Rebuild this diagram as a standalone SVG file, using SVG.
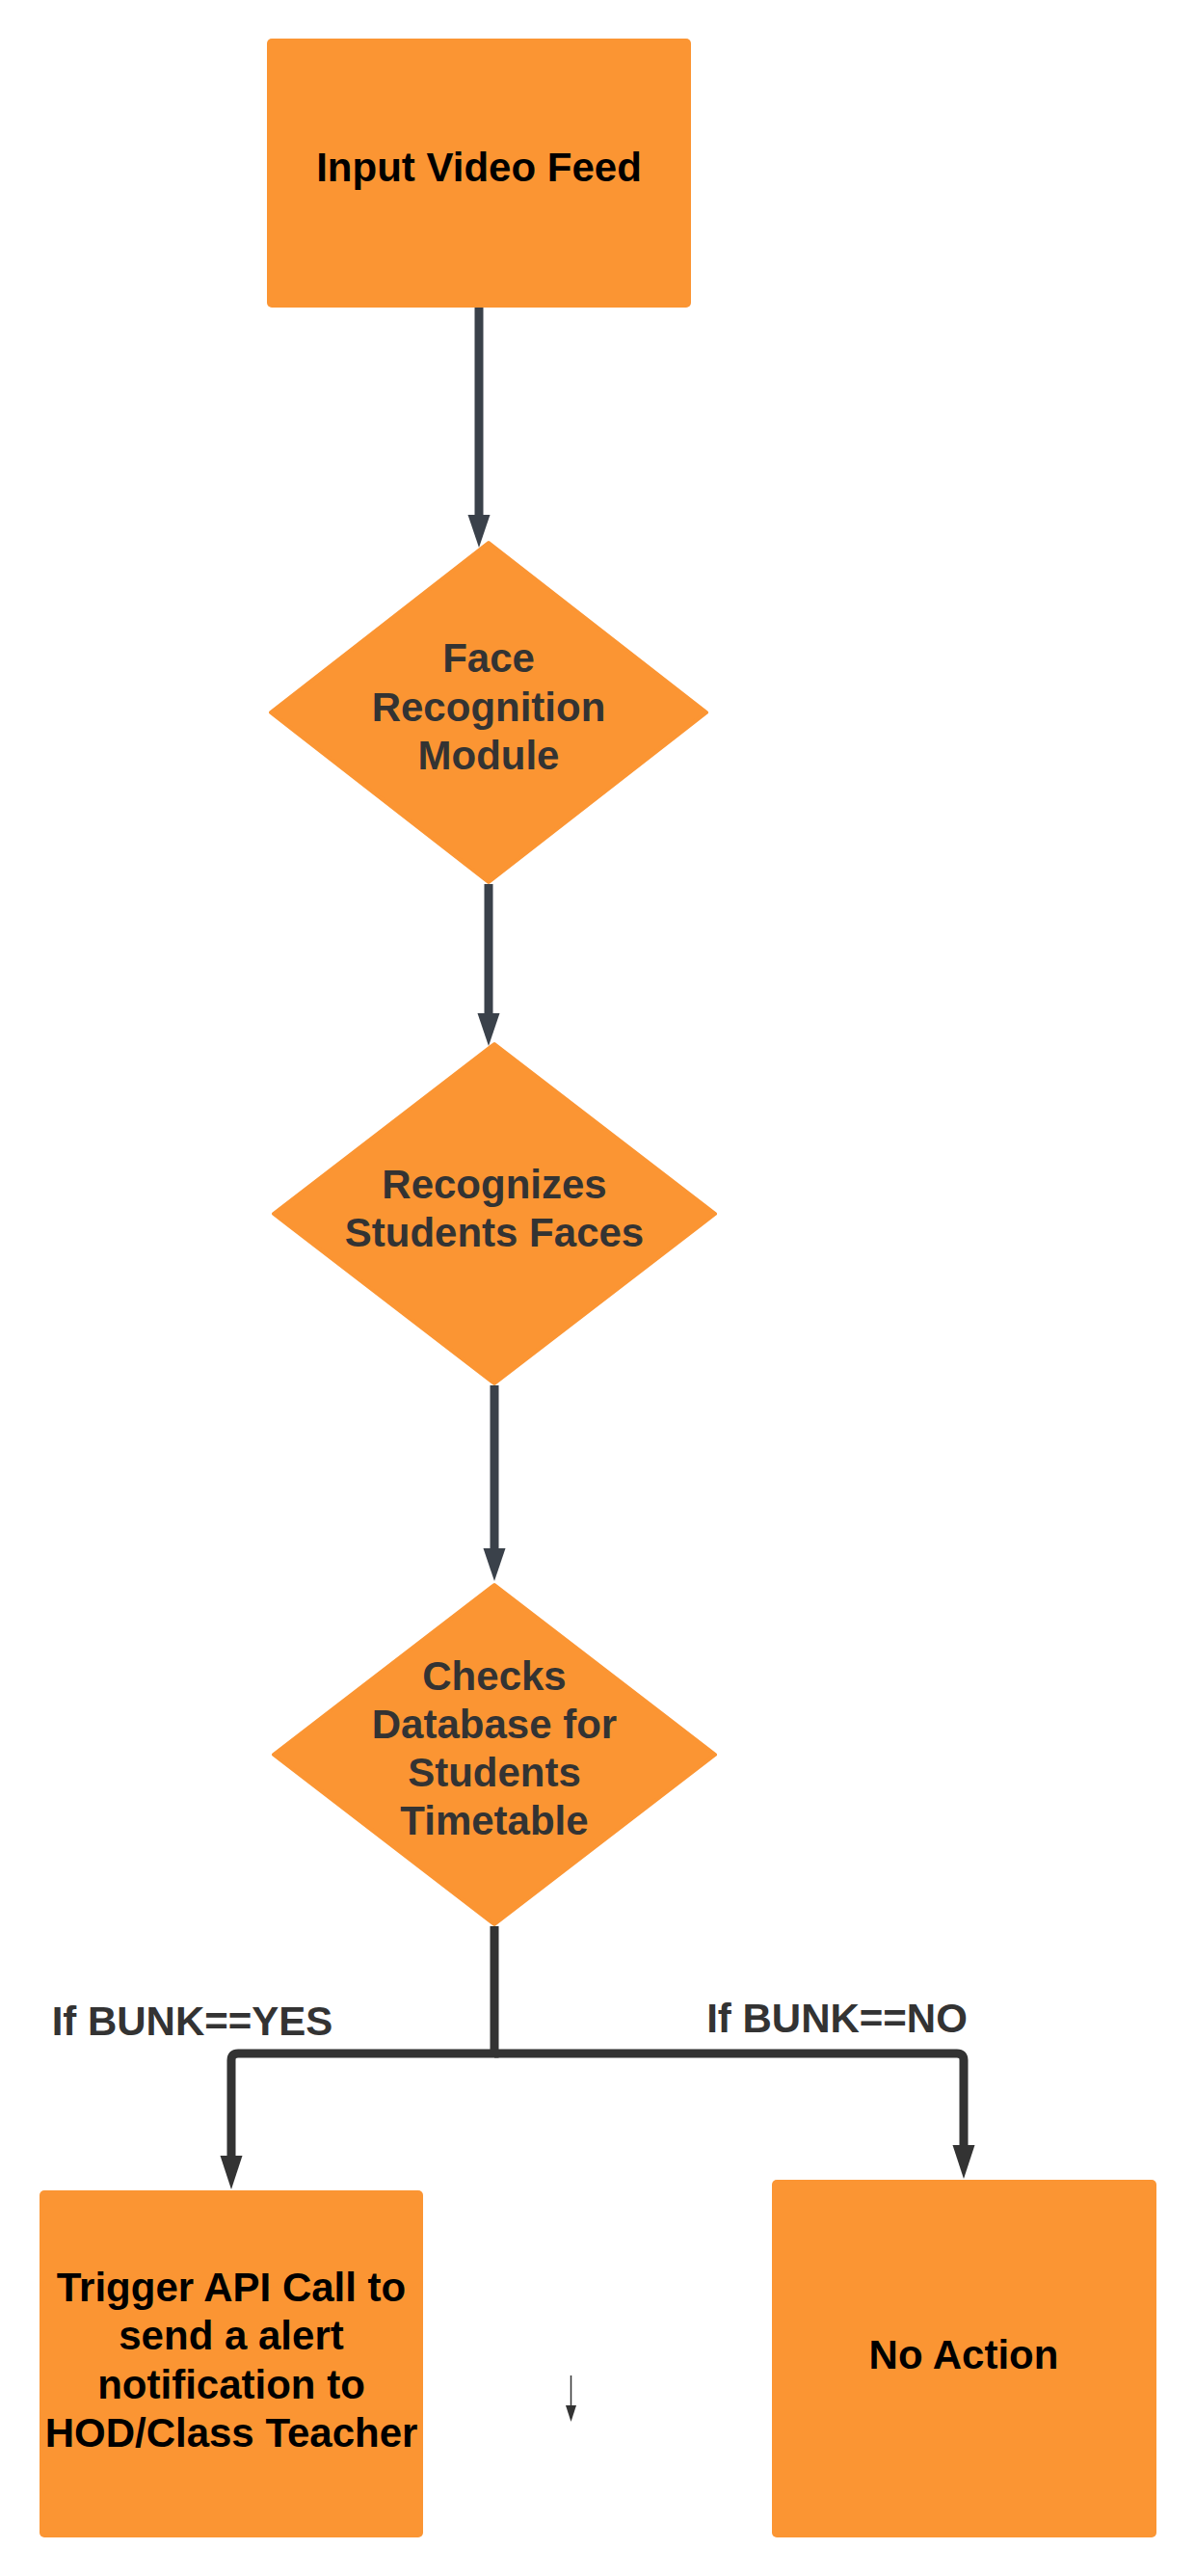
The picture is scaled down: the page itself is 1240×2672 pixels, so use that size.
<svg xmlns="http://www.w3.org/2000/svg" width="1240" height="2672" viewBox="0 0 1240 2672">
<style>
.box{fill:#fb9533;}
.dia{fill:#fb9533;stroke:#fb9533;stroke-width:4;stroke-linejoin:round;}
.t{font-family:"Liberation Sans",Arial,sans-serif;font-weight:bold;font-size:42px;text-anchor:middle;}
.tb{fill:#000000;}
.tg{fill:#333333;}
.c1{fill:none;stroke:#3a414a;stroke-width:9;}
.c2{fill:none;stroke:#333333;stroke-width:9;}
.c3{fill:none;stroke:#333333;stroke-width:1.5;}
</style>
<defs>
<marker id="ah1" markerUnits="userSpaceOnUse" markerWidth="36" markerHeight="26" viewBox="0 -13 36 26" refX="0" refY="0" orient="auto" overflow="visible">
<path d="M0,-11.5 L34,0 L0,11.5 Z" fill="#3a414a"/>
</marker>
<marker id="ah2" markerUnits="userSpaceOnUse" markerWidth="36" markerHeight="26" viewBox="0 -13 36 26" refX="0" refY="0" orient="auto" overflow="visible">
<path d="M0,-11.5 L35,0 L0,11.5 Z" fill="#333333"/>
</marker>
<marker id="ah3" markerUnits="userSpaceOnUse" markerWidth="20" markerHeight="14" viewBox="0 -7 20 14" refX="0" refY="0" orient="auto" overflow="visible">
<path d="M0,-5.5 L17,0 L0,5.5 Z" fill="#333333"/>
</marker>
</defs>
<rect width="1240" height="2672" fill="#ffffff"/>
<g id="connectors">
<path class="c1" d="M497,319 V534" marker-end="url(#ah1)"/>
<path class="c1" d="M507,917 V1051" marker-end="url(#ah1)"/>
<path class="c1" d="M513,1437 V1606" marker-end="url(#ah1)"/>
<path class="c2" d="M513,1998 V2130 H247 Q240,2130 240,2137 V2236" marker-end="url(#ah2)"/>
<path class="c2" d="M513,2130 H993 Q1000,2130 1000,2137 V2225" marker-end="url(#ah2)"/>
<path class="c3" d="M592.5,2464 V2495" marker-end="url(#ah3)"/>
<text class="t tg" x="199.5" y="2111">If BUNK==YES</text>
<text class="t tg" x="868.5" y="2108">If BUNK==NO</text>
</g>
<g id="input-video-feed">
<rect class="box" x="277" y="40" width="440" height="279" rx="5"/>
<text class="t tb" x="497" y="188">Input Video Feed</text>
</g>
<g id="face-recognition-module">
<polygon class="dia" points="507,563 733,739 507,915 281,739"/>
<text class="t tg" x="507" y="697">Face</text>
<text class="t tg" x="507" y="748">Recognition</text>
<text class="t tg" x="507" y="798">Module</text>
</g>
<g id="recognizes-students-faces">
<polygon class="dia" points="513,1083 742,1259 513,1435 284,1259"/>
<text class="t tg" x="513" y="1243">Recognizes</text>
<text class="t tg" x="513" y="1293">Students Faces</text>
</g>
<g id="checks-database">
<polygon class="dia" points="513,1644 742,1820 513,1996 284,1820"/>
<text class="t tg" x="513" y="1753">Checks</text>
<text class="t tg" x="513" y="1803">Database for</text>
<text class="t tg" x="513" y="1853">Students</text>
<text class="t tg" x="513" y="1903">Timetable</text>
</g>
<g id="trigger-api-call">
<rect class="box" x="41" y="2272" width="398" height="360" rx="5"/>
<text class="t tb" x="240" y="2387">Trigger API Call to</text>
<text class="t tb" x="240" y="2437">send a alert</text>
<text class="t tb" x="240" y="2488">notification to</text>
<text class="t tb" x="240" y="2538">HOD/Class Teacher</text>
</g>
<g id="no-action">
<rect class="box" x="801" y="2261" width="399" height="371" rx="5"/>
<text class="t tb" x="1000" y="2457">No Action</text>
</g>
</svg>
